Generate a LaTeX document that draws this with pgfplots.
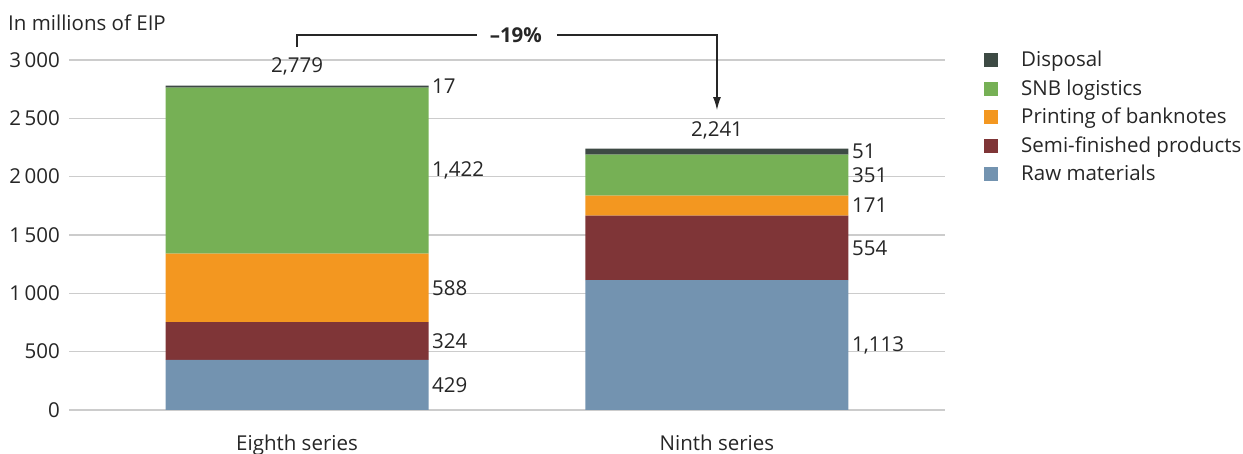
\documentclass[border=0pt]{standalone}
\usepackage{fontspec}
\setmainfont{Open Sans}
\usepackage{pgfplots}
\pgfplotsset{compat=1.18}
\usetikzlibrary{arrows.meta}

\definecolor{cDisp}{HTML}{3D4A44}
\definecolor{cLog}{HTML}{76B055}
\definecolor{cPrint}{HTML}{F39720}
\definecolor{cSemi}{HTML}{7F3537}
\definecolor{cRaw}{HTML}{7393B0}
\definecolor{cGrid}{HTML}{CCCCCC}
\definecolor{cText}{HTML}{262626}

% segment value labels: to the right of the bar, beside each segment
\pgfplotsset{
  seglabel/.style={
    nodes near coords,
    nodes near coords style={
      anchor=west, inner sep=0pt, text=cText,
      xshift=135bp,
      /pgf/number format/1000 sep={,}
    },
  },
}

\begin{document}
\fontsize{20.5bp}{24bp}\selectfont
\color{cText}
\begin{tikzpicture}[x=1bp,y=1bp]
\path[use as bounding box] (0,0) rectangle (1243,454);
\node[anchor=base west, inner sep=0pt] at (8,423) {In millions of EIP};
\begin{axis}[
  at={(69bp,44bp)}, anchor=south west,
  scale only axis, width=876bp, height=350bp,
  xmin=-0.543, xmax=1.543, ymin=0, ymax=3000,
  ybar stacked, bar width=263bp,
  clip=false,
  axis line style={draw=none},
  major tick length=0pt,
  xtick={0,1}, xticklabels={Eighth series, Ninth series},
  ytick={0,500,...,3000},
  ymajorgrids, grid style={cGrid, line width=1.5bp},
  /pgf/number format/assume math mode=true,
  y tick label style={inner sep=0pt, anchor=east, xshift=-9bp,
    /pgf/number format/.cd, 1000 sep={\,}},
  x tick label style={inner sep=0pt, anchor=base, yshift=-41bp},
  reverse legend,
  legend style={at={(1.0445,1.026)}, anchor=north west, draw=none, fill=none,
    inner sep=0pt, row sep=9.8bp, column sep=0pt,
    nodes={inner sep=0pt, anchor=west, text=cText}},
  legend cell align=left,
  legend image code/.code={\fill[#1] (0bp,-7bp) rectangle (14bp,7bp); \path (37bp,0bp);},
]
\addplot[fill=cRaw, draw=none, seglabel] coordinates {(0,429) (1,1113)};
\addlegendentry{Raw materials}
\addplot[fill=cSemi, draw=none, seglabel] coordinates {(0,324) (1,554)};
\addlegendentry{Semi-finished products}
\addplot[fill=cPrint, draw=none, seglabel] coordinates {(0,588) (1,171)};
\addlegendentry{Printing of banknotes}
\addplot[fill=cLog, draw=none, seglabel] coordinates {(0,1422) (1,351)};
\addlegendentry{SNB logistics}
\addplot[fill=cDisp, draw=none, seglabel] coordinates {(0,17) (1,51)};
\addlegendentry{Disposal}
% totals above each bar
\node[anchor=base, inner sep=0pt] at ([yshift=13.5bp]axis cs:0,2780) {2,779};
\node[anchor=base, inner sep=0pt] at ([yshift=12.5bp]axis cs:1,2240) {2,241};
% change between the two series
\draw[line width=1.2bp, cText] (axis cs:0,3111) -- (axis cs:0,3214) -- (axis cs:0.4286,3214);
\draw[line width=1.2bp, cText, -{Latex[width=8bp,length=13bp]}]
  (axis cs:0.619,3214) -- (axis cs:1,3214) -- (axis cs:1,2571);
\node[font=\bfseries, inner sep=0pt] at (axis cs:0.521,3214) {–19\%};
\end{axis}
\end{tikzpicture}
\end{document}
